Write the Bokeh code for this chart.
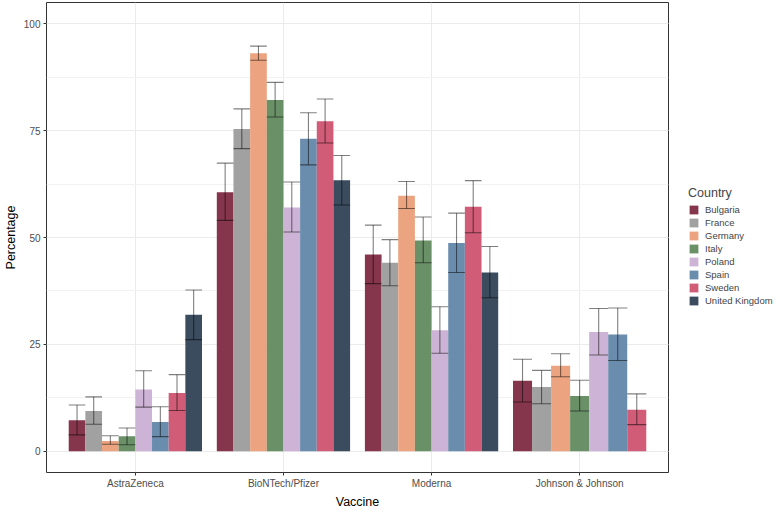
from bokeh.plotting import figure
from bokeh.models import (Range1d, FixedTicker, SingleIntervalTicker, Legend, LegendItem,
                          ColumnDataSource)
from bokeh.embed import file_html
from bokeh.resources import INLINE

vaccines = ["AstraZeneca", "BioNTech/Pfizer", "Moderna", "Johnson & Johnson"]
countries = ["Bulgaria", "France", "Germany", "Italy", "Poland", "Spain", "Sweden", "United Kingdom"]
colors = ["#86364C", "#A1A1A1", "#EBA47F", "#6A9068", "#CDB4D6", "#6A8DAE", "#D05C77", "#3A4C5E"]

# Percentages per vaccine, in the order of `countries` (J&J has no UK value)
az_pct = [7.2, 9.4, 2.4, 3.5, 14.4, 6.8, 13.6, 31.9]
az_lo = [3.8, 6.3, 1.6, 1.5, 10.3, 3.4, 9.5, 26.1]
az_hi = [10.8, 12.7, 3.6, 5.4, 18.8, 10.4, 17.9, 37.7]

bnt_pct = [60.6, 75.4, 93.1, 82.2, 57.0, 73.1, 77.2, 63.4]
bnt_lo = [54.0, 70.8, 91.5, 78.2, 51.3, 67.0, 72.1, 57.6]
bnt_hi = [67.4, 80.1, 94.8, 86.3, 63.0, 79.2, 82.4, 69.2]

mod_pct = [46.0, 44.1, 59.8, 49.3, 28.3, 48.7, 57.2, 41.8]
mod_lo = [39.2, 38.7, 56.8, 44.1, 22.9, 41.8, 51.1, 35.9]
mod_hi = [52.9, 49.5, 63.1, 54.8, 33.8, 55.7, 63.3, 47.9]

jj_pct = [16.5, 15.0, 20.0, 12.9, 27.9, 27.3, 9.7]
jj_lo = [11.5, 11.1, 17.4, 9.4, 22.5, 21.2, 6.2]
jj_hi = [21.5, 18.9, 22.8, 16.6, 33.4, 33.5, 13.4]

pct_all = [az_pct, bnt_pct, mod_pct, jj_pct]
lo_all = [az_lo, bnt_lo, mod_lo, jj_lo]
hi_all = [az_hi, bnt_hi, mod_hi, jj_hi]

FONT = "Liberation Sans"
p = figure(frame_width=622, frame_height=470, output_backend="svg", toolbar_location=None,
           x_range=Range1d(0.4, 4.6), y_range=Range1d(-5, 105),
           min_border_top=2, min_border_left=0, min_border_right=104, min_border_bottom=0)
p.background_fill_color = "white"
p.border_fill_color = "white"
p.outline_line_color = "#333333"
p.outline_line_width = 1

p.xaxis.ticker = FixedTicker(ticks=[1, 2, 3, 4])
p.xaxis.major_label_overrides = {i + 1: v for i, v in enumerate(vaccines)}
p.yaxis.ticker = SingleIntervalTicker(interval=25, num_minor_ticks=2)
p.xgrid.ticker = FixedTicker(ticks=[1, 2, 3, 4])
p.grid.grid_line_color = "#EBEBEB"
p.grid.grid_line_width = 1
p.ygrid.minor_grid_line_color = "#F2F2F2"
p.ygrid.minor_grid_line_width = 1

for ax in (p.xaxis, p.yaxis):
    ax.axis_line_color = None
    ax.major_tick_line_color = "#333333"
    ax.major_tick_out = 3
    ax.major_tick_in = 0
    ax.minor_tick_line_color = None
    ax.major_label_text_color = "#4D4D4D"
    ax.major_label_text_font = FONT
    ax.major_label_text_font_size = "10px"
    ax.major_label_standoff = 2
    ax.axis_label_text_font = FONT
    ax.axis_label_text_font_size = "12.5px"
    ax.axis_label_text_font_style = "normal"
    ax.axis_label_text_color = "black"
    ax.axis_label_standoff = 3
p.xaxis.axis_label = "Vaccine"
p.yaxis.axis_label = "Percentage"

err_x0, err_x1, err_y0, err_y1 = [], [], [], []
items = []
for c, (country, col) in enumerate(zip(countries, colors)):
    xs, tops, ws = [], [], []
    for v in range(len(vaccines)):
        vals = pct_all[v]
        if c >= len(vals):
            continue
        n = len(vals)
        w = 0.9 / n
        x = v + 1 + (c - (n - 1) / 2) * w
        xs.append(x)
        tops.append(vals[c])
        ws.append(w)
        lo, hi = lo_all[v][c], hi_all[v][c]
        err_x0 += [x, x - w / 2, x - w / 2]
        err_x1 += [x, x + w / 2, x + w / 2]
        err_y0 += [lo, lo, hi]
        err_y1 += [hi, lo, hi]
    src = ColumnDataSource(dict(x=xs, top=tops, w=ws))
    r = p.vbar(x="x", top="top", bottom=0, width="w", source=src,
               fill_color=col, line_color=None)
    items.append(LegendItem(label=country, renderers=[r]))

esrc = ColumnDataSource(dict(x0=err_x0, x1=err_x1, y0=err_y0, y1=err_y1))
p.segment(x0="x0", y0="y0", x1="x1", y1="y1", source=esrc,
          line_color="black", line_alpha=0.5, line_width=1.1)

legend = Legend(items=items, title="Country", location=(20, 166))
legend.title_text_font = FONT
legend.title_text_font_size = "12.5px"
legend.title_text_font_style = "normal"
legend.title_standoff = 4
legend.label_text_font = FONT
legend.label_text_font_size = "9.5px"
legend.glyph_width = 11
legend.glyph_height = 11
legend.label_height = 11
legend.spacing = 2
legend.label_standoff = 6
legend.padding = 0
legend.margin = 0
legend.border_line_color = None
legend.background_fill_alpha = 0
p.add_layout(legend, "right")

open("out.html", "w").write(file_html(p, INLINE))
